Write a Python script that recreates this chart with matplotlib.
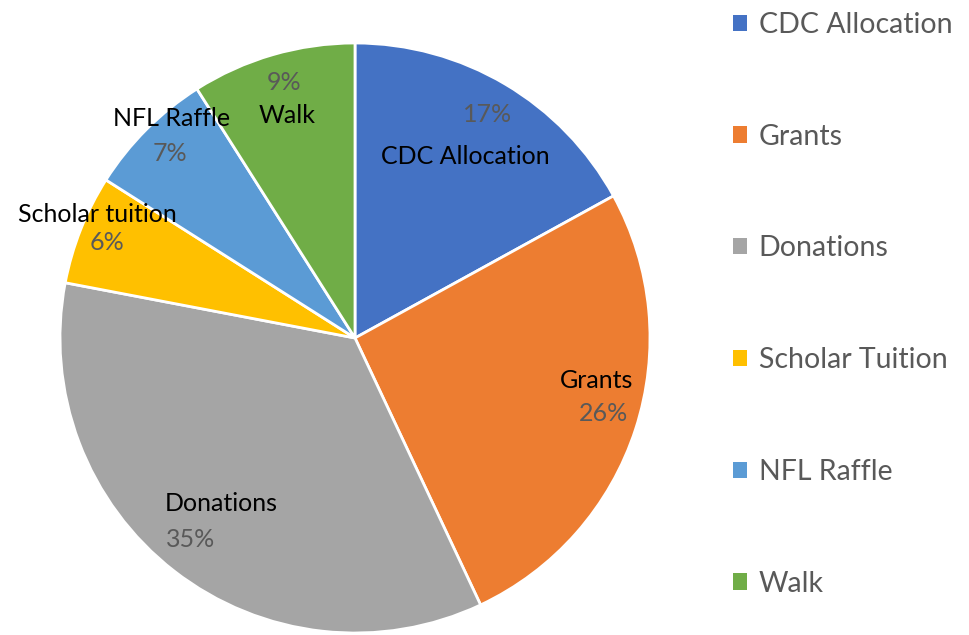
import numpy as np
import matplotlib
matplotlib.use("Agg")
import matplotlib.pyplot as plt
from matplotlib.patches import Patch

plt.rcParams['font.family'] = ['Lato', 'DejaVu Sans']

categories = ['CDC Allocation', 'Grants', 'Donations', 'Scholar Tuition', 'NFL Raffle', 'Walk']
slice_labels = ['CDC Allocation', 'Grants', 'Donations', 'Scholar tuition', 'NFL Raffle', 'Walk']
shares = [17, 26, 35, 6, 7, 9]
colors = ['#4472C4', '#ED7D31', '#A5A5A5', '#FFC000', '#5B9BD5', '#70AD47']

# label placement (angle offset from wedge middle in degrees, radius as fraction)
name_pos = [(-0.8, 0.72), (8.0, 0.83), (-1.2, 0.72), (-4.0, 0.97), (-5.0, 0.97), (0.8, 0.79)]
pct_pos = [(0.0, 0.88), (1.0, 0.88), (-1.4, 0.88), (0.6, 0.90), (0.0, 0.885), (-0.6, 0.90)]

W, H = 969, 635
fig = plt.figure(figsize=(W / 100, H / 100), dpi=100)
cx, cy, R = 355, 338, 295
ax = fig.add_axes([(cx - R) / W, (H - cy - R) / H, 2 * R / W, 2 * R / H])

wedges, _ = ax.pie(shares, colors=colors, startangle=90, counterclock=False,
                   radius=1.0, wedgeprops=dict(edgecolor='white', linewidth=2))
ax.set_xlim(-1, 1)
ax.set_ylim(-1, 1)
ax.set_aspect('equal')
ax.axis('off')

total = float(sum(shares))
for w, lab, v, npos, ppos in zip(wedges, slice_labels, shares, name_pos, pct_pos):
    mid = (w.theta1 + w.theta2) / 2.0
    a = np.deg2rad(mid + npos[0])
    ax.text(npos[1] * np.cos(a), npos[1] * np.sin(a), lab, ha='center', va='center',
            fontsize=18, color='black')
    a = np.deg2rad(mid + ppos[0])
    ax.text(ppos[1] * np.cos(a), ppos[1] * np.sin(a), f"{round(100 * v / total):.0f}%",
            ha='center', va='center', fontsize=18, color='#595959')

handles = [Patch(facecolor=c, edgecolor='none') for c in colors]
leg = fig.legend(handles, categories, loc='upper left', bbox_to_anchor=(733 / W, 1 - 12 / H),
                 frameon=False, fontsize=20.5, labelspacing=3.01, handlelength=0.5,
                 handleheight=0.5, handletextpad=0.4, borderpad=0, borderaxespad=0)
for t in leg.get_texts():
    t.set_color('#595959')

fig.savefig('out.png', dpi=100)
